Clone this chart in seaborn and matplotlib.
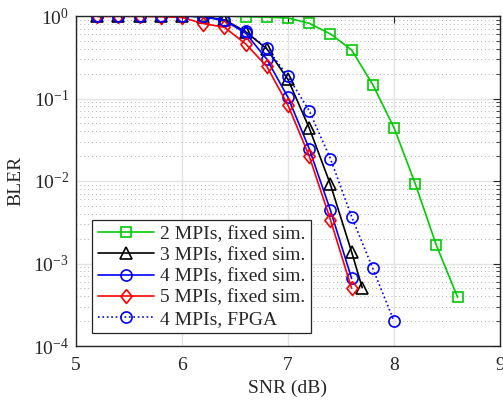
import matplotlib
matplotlib.use("Agg")
import matplotlib.pyplot as plt
import seaborn as sns
from matplotlib.ticker import LogLocator, LogFormatterMathtext, NullFormatter

# ---- data ----
snr_2mpi = [6.2, 6.4, 6.6, 6.8, 7.0, 7.2, 7.4, 7.6, 7.8, 8.0, 8.2, 8.4, 8.6]
bler_2mpi = [1.0, 1.0, 0.98, 0.97, 0.945, 0.816, 0.606, 0.388, 0.147, 0.0443,
             0.0093, 0.00166, 0.00039]

snr_3mpi = [5.2, 5.4, 5.6, 5.8, 6.0, 6.2, 6.4, 6.6, 6.8, 7.0, 7.2, 7.4, 7.6, 7.7]
bler_3mpi = [1.0, 1.0, 1.0, 1.0, 1.0, 0.98, 0.9, 0.646, 0.40, 0.17, 0.044,
             0.0091, 0.00138, 0.00051]

snr_4mpi = [5.2, 5.4, 5.6, 5.8, 6.0, 6.2, 6.4, 6.6, 6.8, 7.0, 7.2, 7.4, 7.6]
bler_4mpi = [1.0, 1.0, 1.0, 1.0, 1.0, 0.98, 0.88, 0.62, 0.30, 0.103, 0.0247,
             0.00443, 0.00066]

snr_5mpi = [5.2, 5.4, 5.6, 5.8, 6.0, 6.2, 6.4, 6.6, 6.8, 7.0, 7.2, 7.4, 7.6]
bler_5mpi = [0.99, 0.99, 0.99, 0.98, 0.96, 0.81, 0.73, 0.46, 0.245, 0.083,
             0.020, 0.0034, 0.0005]

snr_fpga = [5.2, 5.4, 5.6, 5.8, 6.0, 6.2, 6.4, 6.6, 6.8, 7.0, 7.2, 7.4, 7.6, 7.8, 8.0]
bler_fpga = [1.0, 1.0, 1.0, 1.0, 1.0, 0.99, 0.9, 0.65, 0.41, 0.185, 0.071,
             0.0187, 0.0037, 0.00087, 0.0002]

labels = ["2 MPIs, fixed sim.", "3 MPIs, fixed sim.", "4 MPIs, fixed sim.",
          "5 MPIs, fixed sim.", "4 MPIs, FPGA"]

sns.set_theme(style="white")
plt.rcParams["font.family"] = ["Liberation Serif", "DejaVu Serif"]
plt.rcParams["mathtext.fontset"] = "custom"
plt.rcParams["mathtext.rm"] = "Liberation Serif"
plt.rcParams["mathtext.it"] = "Liberation Serif:italic"

# matlab-like diamond (a bit wider than matplotlib's 'd')
diamond = [(0, 1), (0.8, 0), (0, -1), (-0.8, 0), (0, 1)]

fig = plt.figure(figsize=(5.03, 4.03), dpi=100)
ax = fig.add_axes([76 / 503, 1 - 346 / 403, 424 / 503, 330 / 403])

series = [
    (snr_2mpi, bler_2mpi, "#00cc00", "s", 7, "-"),
    (snr_3mpi, bler_3mpi, "black", "^", 8.5, "-"),
    (snr_4mpi, bler_4mpi, "#0000ff", "o", 8, "-"),
    (snr_5mpi, bler_5mpi, "#ff0000", diamond, 10, "-"),
    (snr_fpga, bler_fpga, "#0000ff", "o", 8, ":"),
]
for (x, y, c, m, ms, ls), lab in zip(series, labels):
    sns.lineplot(x=x, y=y, ax=ax, color=c, marker=m, markersize=ms,
                 markerfacecolor="none", markeredgecolor=c, markeredgewidth=1.2,
                 linestyle=ls, linewidth=1.2, sort=False, label=lab)

ax.set_yscale("log")
ax.set_xlim(5, 9)
ax.set_ylim(1e-4, 1)
ax.set_xticks([5, 6, 7, 8, 9])
ax.yaxis.set_major_locator(LogLocator(base=10, numticks=10))
ax.yaxis.set_minor_locator(LogLocator(base=10, subs=range(2, 10), numticks=20))
ax.yaxis.set_major_formatter(LogFormatterMathtext())
ax.yaxis.set_minor_formatter(NullFormatter())

ax.grid(True, which="major", axis="both", color="#e3e3e3", linestyle="-", linewidth=1.0)
ax.grid(True, which="minor", axis="y", color="#b0b0b0", linestyle=(0, (1, 3)), linewidth=0.7)
ax.set_axisbelow(True)

for s in ax.spines.values():
    s.set_color("#262626")
    s.set_linewidth(1.0)
ax.tick_params(which="both", direction="in", top=True, right=True,
               colors="#262626", labelsize=14)
ax.tick_params(which="major", length=5, width=0.8)
ax.tick_params(which="minor", length=3, width=0.6)
ax.tick_params(axis="x", pad=8)
ax.tick_params(axis="y", pad=5)

ax.set_xlabel("SNR (dB)", fontsize=14, color="#262626", labelpad=4)
ax.set_ylabel("BLER", fontsize=14, color="#262626", labelpad=6)

leg = ax.legend(loc="lower left", bbox_to_anchor=(0.038, 0.038), fontsize=14,
                frameon=True, fancybox=False, framealpha=1, edgecolor="#262626",
                handlelength=2.9, handletextpad=0.3, borderpad=0.3,
                labelspacing=0.18, borderaxespad=0)
leg.get_frame().set_linewidth(0.9)

fig.savefig("out.png", dpi=100)
